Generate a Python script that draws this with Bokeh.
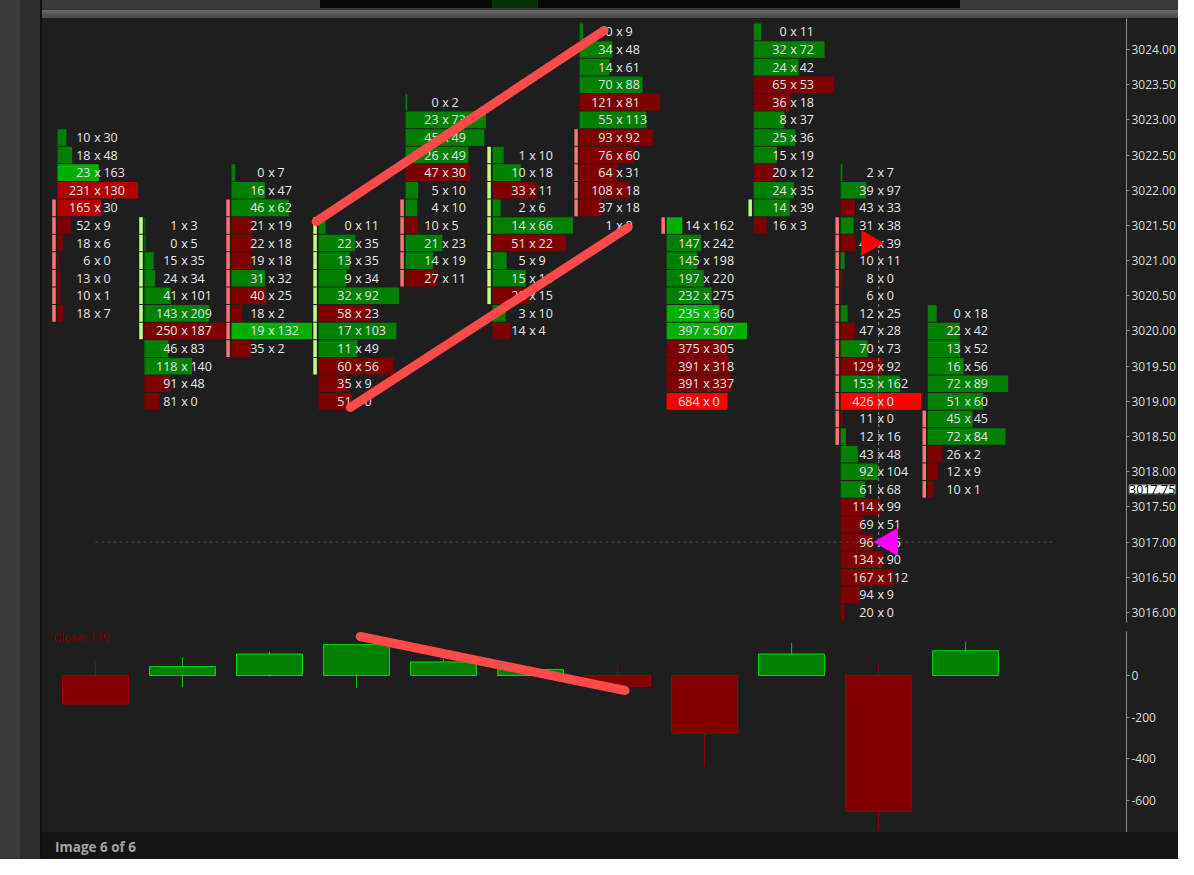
import numpy as np
from bokeh.plotting import figure
from bokeh.layouts import column, row
from bokeh.models import Range1d, FixedTicker, PrintfTickFormatter, Label, Div, ColumnDataSource
from bokeh.core.properties import value
from bokeh.embed import file_html
from bokeh.resources import INLINE

TICK = 0.25
col_top = [3022.75, 3021.50, 3022.25, 3021.50, 3023.25, 3022.50, 3024.25, 3021.50, 3024.25, 3022.25, 3020.25]

bid1 = [10, 18, 23, 231, 165, 52, 18, 6, 13, 10, 18]
ask1 = [30, 48, 163, 130, 30, 9, 6, 0, 0, 1, 7]
bid2 = [1, 0, 15, 24, 41, 143, 250, 46, 118, 91, 81]
ask2 = [3, 5, 35, 34, 101, 209, 187, 83, 140, 48, 0]
bid3 = [0, 16, 46, 21, 22, 19, 31, 40, 18, 19, 35]
ask3 = [7, 47, 62, 19, 18, 18, 32, 25, 2, 132, 2]
bid4 = [0, 22, 13, 9, 32, 58, 17, 11, 60, 35, 51]
ask4 = [11, 35, 35, 34, 92, 23, 103, 49, 56, 9, 0]
bid5 = [0, 23, 45, 26, 47, 5, 4, 10, 21, 14, 27]
ask5 = [2, 73, 49, 49, 30, 10, 10, 5, 23, 19, 11]
bid6 = [1, 10, 33, 2, 14, 51, 5, 15, 22, 3, 14]
ask6 = [10, 18, 11, 6, 66, 22, 9, 18, 15, 10, 4]
bid7 = [0, 34, 14, 70, 121, 55, 93, 76, 64, 108, 37, 1]
ask7 = [9, 48, 61, 88, 81, 113, 92, 60, 31, 18, 18, 0]
bid8 = [14, 147, 145, 197, 232, 235, 397, 375, 391, 391, 684]
ask8 = [162, 242, 198, 220, 275, 360, 507, 305, 318, 337, 0]
bid9 = [0, 32, 24, 65, 36, 8, 25, 15, 20, 24, 14, 16]
ask9 = [11, 72, 42, 53, 18, 37, 36, 19, 12, 35, 39, 3]
bid10 = [2, 39, 43, 31, 41, 10, 8, 6, 12, 47, 70, 129, 153, 426, 11, 12, 43, 92, 61, 114, 69, 96, 134, 167, 94, 20]
ask10 = [7, 97, 33, 38, 39, 11, 0, 0, 25, 28, 73, 92, 162, 0, 0, 16, 48, 104, 68, 99, 51, 76, 90, 112, 9, 0]
bid11 = [0, 22, 13, 16, 72, 51, 45, 72, 26, 12, 10]
ask11 = [18, 42, 52, 56, 89, 60, 45, 84, 2, 9, 1]

bids = [bid1, bid2, bid3, bid4, bid5, bid6, bid7, bid8, bid9, bid10, bid11]
asks = [ask1, ask2, ask3, ask4, ask5, ask6, ask7, ask8, ask9, ask10, ask11]

# highlighted cells: (column, price) -> tier
highlight = {(0, 3022.25): 1, (0, 3022.00): 1, (0, 3021.75): 1, (2, 3020.00): 1,
             (7, 3021.50): 1, (7, 3020.25): 1, (7, 3020.00): 1, (7, 3019.00): 2, (9, 3019.00): 2}

# stacked imbalance zones: (column, top price, bottom price, side)
zones = [(0, 3021.75, 3020.25, "sell"), (1, 3021.50, 3020.00, "buy"), (2, 3021.75, 3019.75, "sell"),
         (3, 3021.50, 3019.50, "buy"), (4, 3021.75, 3020.75, "sell"), (5, 3022.50, 3020.50, "buy"),
         (6, 3022.75, 3021.75, "sell"), (7, 3021.50, 3021.50, "sell"), (8, 3021.75, 3021.75, "buy"),
         (9, 3021.50, 3018.50, "sell"), (10, 3018.75, 3017.75, "sell")]

# delta candles
d_close = [-137, 43, 103, 148, 65, 29, -51, -278, 103, -651, 119]
d_high = [63, 87, 114, 150, 78, 35, 44, 0, 156, 60, 162]
d_low = [-137, -56, -5, -60, 0, 0, -55, -437, 0, -743, -3]

last_price = 3017.75

# markers in column 10
mark_col = 9
sell_mark_price = 3021.25
buy_mark_price = 3017.00

# hand-drawn annotation lines (column units, price / delta)
ann1_x = [2.537, 5.844]
ann1_y = [3021.556, 3024.27]
ann2_x = [2.928, 6.119]
ann2_y = [3018.913, 3021.471]
ann3_x = [3.042, 6.085]
ann3_y = [187, -72]

PXX = 87.1
PXY = 70.375
BG = "#1e1e1e"
FONT = "Open Sans"

xr = Range1d(-0.5396, 11.848)

# p1: frame 604 px + 9 px side panel below (holds the last-price box)
p1 = figure(width=1136, height=613, x_range=xr, y_range=Range1d(3015.8579, 3024.4405),
            output_backend="svg", toolbar_location=None, x_axis_location=None, y_axis_location="right",
            min_border_left=6, min_border_right=51, min_border_top=0, min_border_bottom=0,
            background_fill_color=BG, border_fill_color=BG, outline_line_color=None, margin=0)
p1.grid.visible = False

bar = dict(y=[], left=[], right=[], color=[])
txt = dict(y=[], xb=[], xx=[], xa=[], b=[], a=[])
for i in range(11):
    tot = [b + a for b, a in zip(bids[i], asks[i])]
    mx = max(tot)
    for k, (b, a) in enumerate(zip(bids[i], asks[i])):
        pr = round(col_top[i] - k * TICK, 2)
        left = i - 38 / PXX
        right = left + 80.5 / PXX * (b + a) / mx
        tier = highlight.get((i, pr), 0)
        if a >= b:
            c = "#00b000" if tier else "#008000"
        else:
            c = "#ff0000" if tier == 2 else ("#b00000" if tier == 1 else "#7f0000")
        bar["y"].append(pr); bar["left"].append(left); bar["right"].append(right); bar["color"].append(c)
        cx = i + 2 / PXX
        txt["y"].append(pr); txt["xb"].append(cx - 7 / PXX); txt["xx"].append(cx); txt["xa"].append(cx + 6 / PXX)
        txt["b"].append(str(b)); txt["a"].append(str(a))

p1.hbar(y="y", left="left", right="right", height=16.6 / PXY, fill_color="color", line_color=None,
        source=ColumnDataSource(bar))

zm = dict(x=[], y=[], color=[])
for (ci, top, bot, side) in zones:
    pr = top
    while pr >= bot - 1e-9:
        zm["x"].append(ci - 41.5 / PXX); zm["y"].append(pr)
        zm["color"].append("#ff7373" if side == "sell" else "#c6ff86")
        pr = round(pr - TICK, 2)
p1.rect(x="x", y="y", width=3.5 / PXX, height=16.6 / PXY, fill_color="color", line_color=None,
        source=ColumnDataSource(zm))

# dashed reference lines
p1.line([0, 11.0], [buy_mark_price, buy_mark_price], line_color="#4e4e4e", line_dash="3 3", line_width=1)
p1.line([mark_col, mark_col], [sell_mark_price - 0.1, buy_mark_price], line_color="#8a8a8a",
        line_dash="3 3", line_width=1)

tsrc = ColumnDataSource(txt)
common = dict(y="y", text_baseline="middle", text_font=value(FONT), text_font_size="12.5px",
              text_color="#e6e6e6", source=tsrc)
p1.text(x="xb", text="b", text_align="right", **common)
p1.text(x="xx", text=value("x"), text_align="center", **common)
p1.text(x="xa", text="a", text_align="left", **common)

p1.scatter([mark_col - 0.114], [sell_mark_price], marker="triangle", size=26, angle=-np.pi / 2,
           fill_color="#ff0000", line_color=None)
p1.scatter([mark_col + 0.127], [buy_mark_price], marker="triangle", size=28, angle=np.pi / 2,
           fill_color="#ff00ff", line_color=None)

for xs_, ys_ in ((ann1_x, ann1_y), (ann2_x, ann2_y)):
    p1.line(xs_, ys_, line_color="#ff4a4a", line_width=9, line_cap="round")


def style_axis(a_):
    a_.axis_line_color = "#8c8c8c"
    a_.major_tick_line_color = "#8c8c8c"
    a_.major_tick_out = 3
    a_.major_tick_in = 0
    a_.minor_tick_line_color = None
    a_.major_label_text_color = "#dcdcdc"
    a_.major_label_text_font = FONT
    a_.major_label_text_font_size = "12px"
    a_.major_label_standoff = 2


ax = p1.yaxis[0]
ax.ticker = FixedTicker(ticks=[3016 + 0.5 * k for k in range(17)])
ax.formatter = PrintfTickFormatter(format="%.2f")
style_axis(ax)

# current price box, placed in a side panel so it is not clipped to the frame
p1.add_layout(Label(x=11.878, y=last_price, text="%.2f" % last_price, text_baseline="middle",
                    text_align="left", text_font=FONT, text_font_size="12.5px", text_color="#000000",
                    background_fill_color="#ffffff", border_line_color="#777777"), "below")

# delta panel: frame from page y 631 to 832, zero at page y 675
p2 = figure(width=1136, height=201, x_range=xr, y_range=Range1d(-753, 211),
            output_backend="svg", toolbar_location=None, x_axis_location=None, y_axis_location="right",
            min_border_left=6, min_border_right=51, min_border_top=0, min_border_bottom=0,
            background_fill_color=BG, border_fill_color=BG, outline_line_color=None, margin=0)
p2.grid.visible = False
xs = list(range(11))
up = [c >= 0 for c in d_close]
csrc = ColumnDataSource(dict(x=xs, top=[max(0, c) for c in d_close], bottom=[min(0, c) for c in d_close],
                             hi=d_high, lo=d_low,
                             fill=["#008000" if u else "#800000" for u in up],
                             line=["#00dd00" if u else "#a00000" for u in up],
                             wick=["#00cc00" if u else "#990000" for u in up]))
p2.segment(x0="x", y0="lo", x1="x", y1="hi", line_color="wick", line_width=1, source=csrc)
p2.vbar(x="x", width=66 / PXX, top="top", bottom="bottom", fill_color="fill", line_color="line",
        line_width=1, source=csrc)
p2.line(ann3_x, ann3_y, line_color="#ff4a4a", line_width=9, line_cap="round")
p2.add_layout(Label(x=-0.482, y=180, text="Close: " + str(d_close[-1]), text_baseline="middle",
                    text_font="Roboto", text_font_size="12px", text_color="#7a0000"))
a2 = p2.yaxis[0]
a2.ticker = FixedTicker(ticks=[0, -200, -400, -600])
a2.formatter = PrintfTickFormatter(format="%d")
style_axis(a2)

top_html = ('<div style="position:relative;width:1136px;height:18px;'
            'background:linear-gradient(to bottom,#383838 0px,#383838 10px,#6a6a6a 10px,#474747 18px);">'
            '<div style="position:absolute;left:278px;top:0;width:640px;height:8px;background:#060606;"></div>'
            '<div style="position:absolute;left:450px;top:0;width:46px;height:8px;background:#063306;"></div>'
            '</div>')
top_div = Div(text=top_html, width=1136, height=18, margin=0)
bottom_div = Div(text='<div style="padding:6px 0 0 13px;font-family:\'Open Sans\';font-weight:bold;'
                      'font-size:13.5px;line-height:18px;color:#a3a3a3;">Image 6 of 6</div>',
                 width=1136, height=27, margin=0, styles={"background-color": "#141414"})
left_div = Div(text="", width=42, height=859, margin=0,
               styles={"background": "linear-gradient(to right,#3a3a3a 0px,#3a3a3a 20px,#2c2c2c 20px,#2c2c2c 40px,#111 40px)"})

inner = column(top_div, p1, p2, bottom_div, spacing=0, margin=0, styles={"background-color": BG})
layout = row(left_div, inner, spacing=0, margin=0, styles={"background-color": "#303030"})
open("out.html", "w").write(file_html(layout, INLINE))
